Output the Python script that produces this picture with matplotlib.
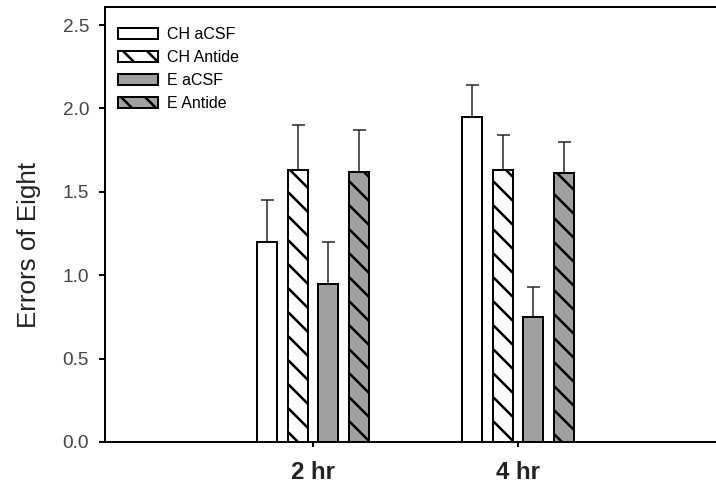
import numpy as np
import matplotlib
matplotlib.use("Agg")
import matplotlib.pyplot as plt

# Daten
groups = ['2 hr', '4 hr']
labels = ['CH aCSF', 'CH Antide', 'E aCSF', 'E Antide']
means = {
    'CH aCSF':   [1.20, 1.95],
    'CH Antide': [1.63, 1.63],
    'E aCSF':    [0.95, 0.75],
    'E Antide':  [1.62, 1.61],
}
sems = {
    'CH aCSF':   [0.25, 0.19],
    'CH Antide': [0.27, 0.21],
    'E aCSF':    [0.25, 0.18],
    'E Antide':  [0.25, 0.19],
}

# dpi 72 -> 1 pt = 1 px
plt.rcParams.update({
    'font.family': ['Liberation Sans', 'DejaVu Sans'],
    'hatch.linewidth': 2.5,
})

fig = plt.figure(figsize=(716 / 72, 489 / 72), dpi=72)
ax = fig.add_axes([105 / 716, 1 - 442 / 489, 611 / 716, 434.5 / 489])

x = np.arange(1, len(groups) + 1)
offsets = [-0.225, -0.075, 0.075, 0.225]
fills = ['white', 'white', '#a0a0a0', '#a0a0a0']
hatches = [None, '\\', None, '\\']

for lab, off, fc, h in zip(labels, offsets, fills, hatches):
    m = np.array(means[lab])
    e = np.array(sems[lab])
    ax.bar(x + off, m, width=0.098, color=fc, edgecolor='black', linewidth=2,
           hatch=h, label=lab, zorder=2)
    ax.errorbar(x + off, m, yerr=[np.zeros_like(e), e], fmt='none',
                ecolor='#222222', elinewidth=1.5, capsize=6.5, capthick=1.5, zorder=1)

ax.set_xlim(-0.0146, 2.966)
ax.set_ylim(0, 2.605)
ax.set_yticks([0.0, 0.5, 1.0, 1.5, 2.0, 2.5])
ax.set_yticklabels(['0.0', '0.5', '1.0', '1.5', '2.0', '2.5'])
ax.set_xticks(x)
ax.set_xticklabels(groups, fontweight='bold', fontsize=24)
ax.tick_params(axis='y', direction='out', length=6, width=2, labelsize=19,
               labelcolor='#444444', pad=10)
ax.tick_params(axis='x', direction='out', length=5, width=2, labelcolor='#222222', pad=14)

for s in ['left', 'bottom', 'top']:
    ax.spines[s].set_linewidth(2)
ax.spines['right'].set_visible(False)

ax.set_ylabel('Errors of Eight', fontsize=26, color='#222222')
ax.yaxis.set_label_coords(-0.105, 0.453)

ax.legend(loc='upper left', bbox_to_anchor=(0.01, 0.97), frameon=False,
          fontsize=16, handlelength=2.5, handleheight=0.65, labelspacing=0.5,
          handletextpad=0.6, borderaxespad=0)

fig.savefig('out.png', dpi=72)
